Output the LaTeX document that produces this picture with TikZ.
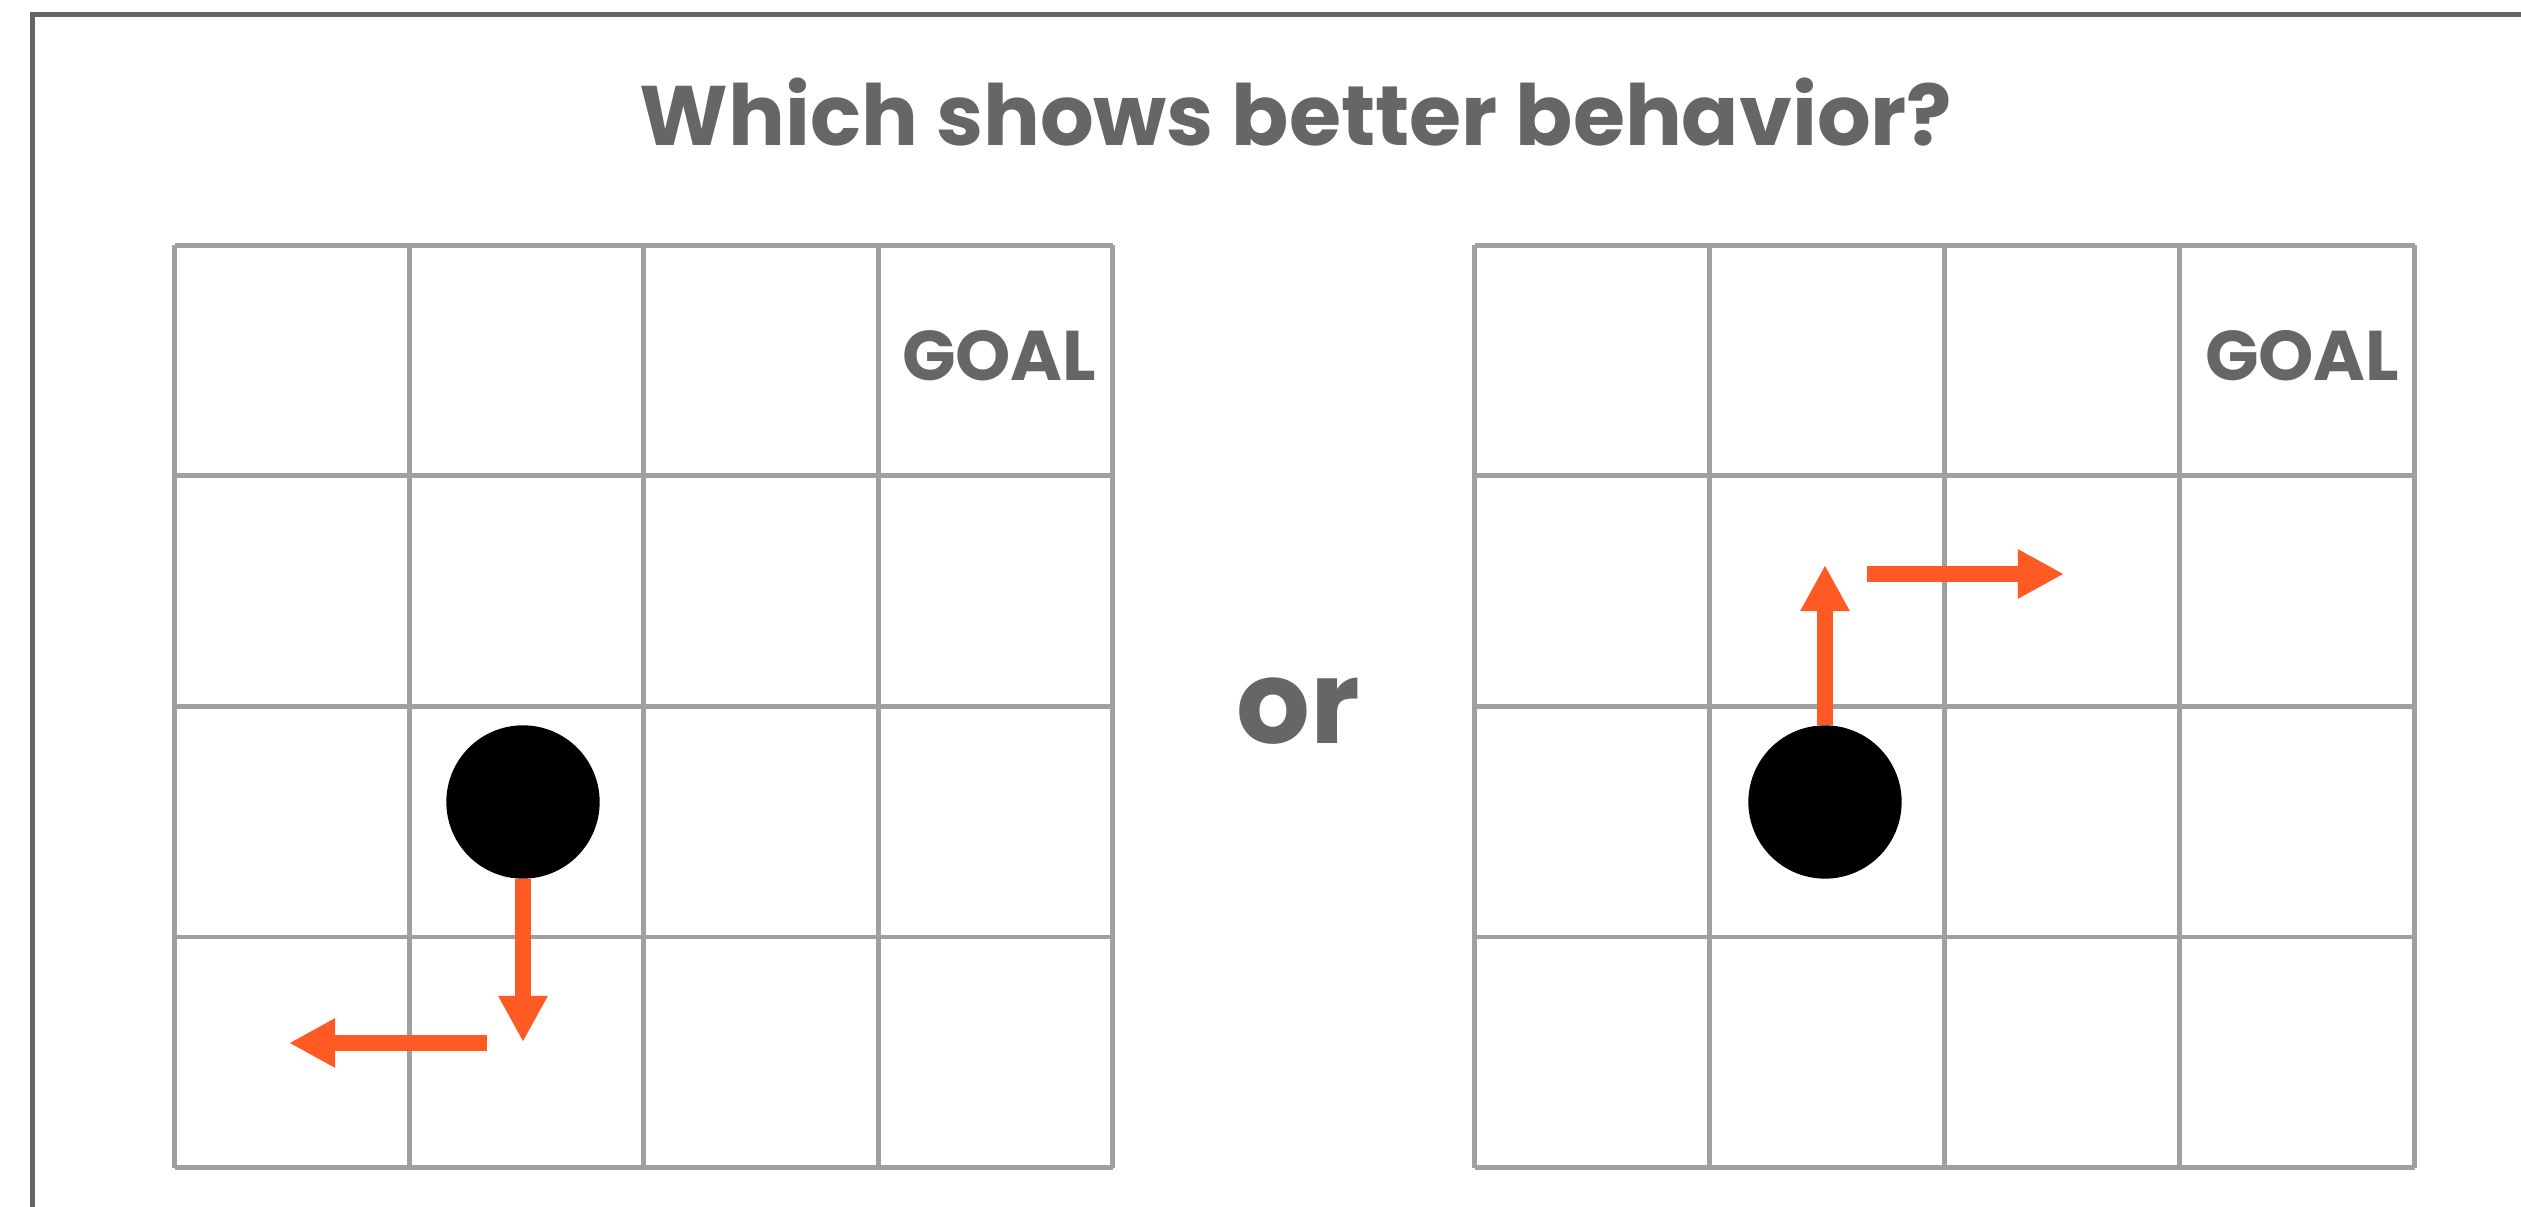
\documentclass[tikz,border=0pt]{standalone}
\usepackage{fontspec}
\setmainfont{Poppins}
\usetikzlibrary{arrows.meta}
\definecolor{txtgray}{HTML}{666666}
\definecolor{gridgray}{HTML}{A0A0A0}
\definecolor{frame}{HTML}{666666}
\definecolor{orng}{HTML}{FF5A24}
\tikzset{
  gridline/.style={draw=gridgray,line width=1.42pt},
  agent/.style={circle,fill=black,minimum size=43.6pt,inner sep=0pt},
  movearrow/.style={draw=orng,line width=4.55pt,-{Triangle[length=13.1pt,width=13.1pt]}},
  goaltext/.style={text=txtgray,font=\bfseries\fontsize{20}{24}\selectfont,inner sep=0pt},
}
\begin{document}
\begin{tikzpicture}[x=0.01cm,y=-0.01cm]
\useasboundingbox (0,0) rectangle (2521,1207);
\fill[white] (0,0) rectangle (2521,1207);
% outer frame
\draw[frame,line width=1.42pt] (32.5,1207) -- (32.5,15) -- (2521,15);
% title
\node[text=txtgray,font=\bfseries\fontsize{24}{28}\selectfont,anchor=base,inner sep=0pt] (title) at (1296,146) {Which shows better behavior?};
% left grid
\foreach \i in {0,...,4}{
  \draw[gridline] ({174.5+234.5*\i},245.5) -- ({174.5+234.5*\i},1167.5);
  \draw[gridline] (174.5,{245.5+230.5*\i}) -- (1112.5,{245.5+230.5*\i});
}
% right grid
\foreach \i in {0,...,4}{
  \draw[gridline] ({1474.5+235*\i},245.5) -- ({1474.5+235*\i},1167.5);
  \draw[gridline] (1474.5,{245.5+230.5*\i}) -- (2414.5,{245.5+230.5*\i});
}
\node[goaltext,anchor=base east] (goalL) at (1097,381) {GOAL};
\node[goaltext,anchor=base east] (goalR) at (2400,381) {GOAL};
% or
\node[text=txtgray,font=\bfseries\fontsize{33}{37}\selectfont,anchor=base,inner sep=0pt] (or) at (1298,744) {or};
% agents
\node[agent] (agentL) at (523,802) {};
\node[agent] (agentR) at (1825,802) {};
% arrows
\coordinate (downTip) at (523,1042);
\coordinate (leftStart) at (487,1043);
\coordinate (leftTip) at (289,1043);
\coordinate (upTip) at (1825,565);
\coordinate (rightStart) at (1867,574);
\coordinate (rightTip) at (2064,574);
\draw[movearrow] (agentL.south) -- (downTip);
\draw[movearrow] (leftStart) -- (leftTip);
\draw[movearrow] (agentR.north) -- (upTip);
\draw[movearrow] (rightStart) -- (rightTip);
\end{tikzpicture}
\end{document}
